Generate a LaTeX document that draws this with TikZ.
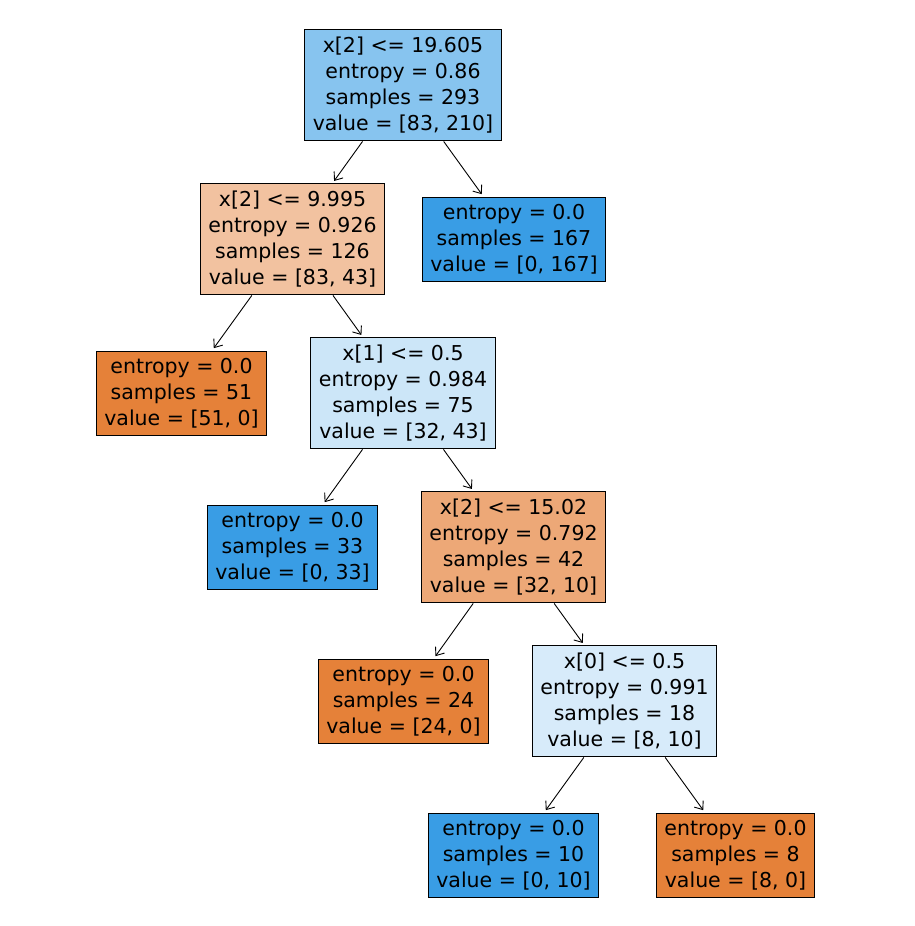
\documentclass[tikz,border=0pt]{standalone}
\usepackage{fontspec}
\setmainfont{DejaVu Sans}
\usetikzlibrary{arrows.meta}
\definecolor{orng}{RGB}{229,129,57}
\definecolor{blu}{RGB}{57,157,229}
\definecolor{cRoot}{RGB}{135,196,239}
\definecolor{cA}{RGB}{242,194,160}
\definecolor{cB}{RGB}{204,230,248}
\definecolor{cC}{RGB}{237,168,119}
\definecolor{cD}{RGB}{215,235,250}
\begin{document}
\begin{tikzpicture}[x=1pt,y=-1pt,->,>={Straight Barb[length=7pt,width=11pt]},
    shorten >=3pt,shorten <=1pt,line width=0.9pt,
    leaf/.style={draw,rectangle,align=center,font=\fontsize{20.5}{26}\selectfont,
      inner xsep=8pt,inner ysep=7pt}]
  \useasboundingbox (0,0) rectangle (914,926);
  \node[leaf, fill=cRoot] (r) at (403,85) {x[2] <= 19.605\\entropy = 0.86\\samples = 293\\value = [83, 210]};
  \node[leaf, fill=cA] (n1) at (292.5,239) {x[2] <= 9.995\\entropy = 0.926\\samples = 126\\value = [83, 43]};
  \node[leaf, fill=blu] (n2) at (514,239) {entropy = 0.0\\samples = 167\\value = [0, 167]};
  \node[leaf, fill=orng] (n3) at (181.5,393) {entropy = 0.0\\samples = 51\\value = [51, 0]};
  \node[leaf, fill=cB] (n4) at (403,393) {x[1] <= 0.5\\entropy = 0.984\\samples = 75\\value = [32, 43]};
  \node[leaf, fill=blu] (n5) at (292.5,547) {entropy = 0.0\\samples = 33\\value = [0, 33]};
  \node[leaf, fill=cC] (n6) at (513.5,547) {x[2] <= 15.02\\entropy = 0.792\\samples = 42\\value = [32, 10]};
  \node[leaf, fill=orng] (n7) at (403.5,701) {entropy = 0.0\\samples = 24\\value = [24, 0]};
  \node[leaf, fill=cD] (n8) at (624.5,701) {x[0] <= 0.5\\entropy = 0.991\\samples = 18\\value = [8, 10]};
  \node[leaf, fill=blu] (n9) at (513.5,855) {entropy = 0.0\\samples = 10\\value = [0, 10]};
  \node[leaf, fill=orng] (n10) at (735.5,855) {entropy = 0.0\\samples = 8\\value = [8, 0]};
  \draw (r) -- (n1);
  \draw (r) -- (n2);
  \draw (n1) -- (n3);
  \draw (n1) -- (n4);
  \draw (n4) -- (n5);
  \draw (n4) -- (n6);
  \draw (n6) -- (n7);
  \draw (n6) -- (n8);
  \draw (n8) -- (n9);
  \draw (n8) -- (n10);
\end{tikzpicture}
\end{document}
